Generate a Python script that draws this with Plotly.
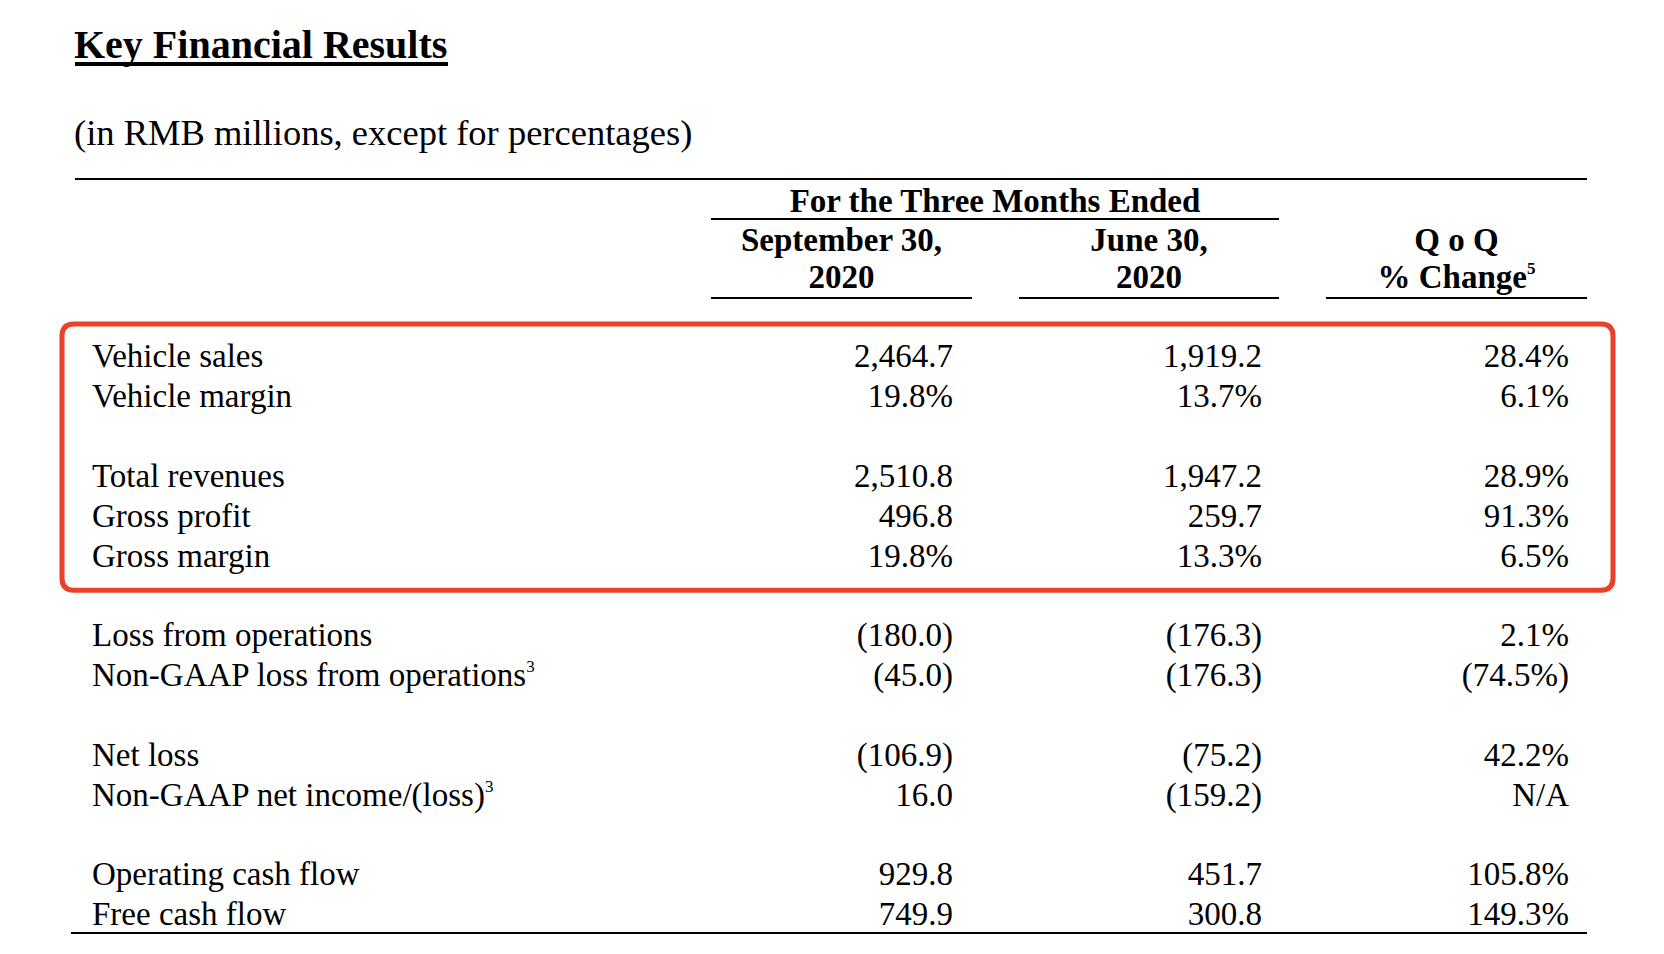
import plotly.graph_objects as go

# ---- data -------------------------------------------------------------
SUP = '<sup><span style="font-size:17px">{}</span></sup>'

row_labels = [
    "Vehicle sales", "Vehicle margin",
    "Total revenues", "Gross profit", "Gross margin",
    "Loss from operations", "Non-GAAP loss from operations" + SUP.format(3),
    "Net loss", "Non-GAAP net income/(loss)" + SUP.format(3),
    "Operating cash flow", "Free cash flow",
]
row_group = [0, 0, 1, 1, 1, 2, 2, 3, 3, 4, 4]
is_pct = [False, True, False, False, True, False, False, False, False, False, False]

sep30_2020 = [2464.7, 19.8, 2510.8, 496.8, 19.8, -180.0, -45.0, -106.9, 16.0, 929.8, 749.9]
jun30_2020 = [1919.2, 13.7, 1947.2, 259.7, 13.3, -176.3, -176.3, -75.2, -159.2, 451.7, 300.8]
qoq_change = [28.4, 6.1, 28.9, 91.3, 6.5, 2.1, -74.5, 42.2, None, 105.8, 149.3]

col_headers = [["September 30,", "2020"], ["June 30,", "2020"], ["Q o Q", "% Change" + SUP.format(5)]]
group_header = "For the Three Months Ended"
title = "Key Financial Results"
subtitle = "(in RMB millions, except for percentages)"
highlight_groups = [0, 1]

# ---- layout constants (page pixels) -----------------------------------
W, H = 1664, 954
PAGE_PAD = 8  # default body margin of the html page
FONT = "Liberation Serif, Times New Roman, serif"
ROW_Y0, ROW_STEP = 359, 39.85
LABEL_X = 92
COL_RIGHT = [953, 1262, 1569]
COL_SPAN = [(711, 972), (1019, 1279), (1326, 1587)]
TABLE_L, TABLE_R = 75, 1587
RED = "#EA4129"


def fmt(v, pct):
    if v is None:
        return "N/A"
    s = f"{abs(v):,.1f}" + ("%" if pct else "")
    return f"({s})" if v < 0 else s


row_y = [ROW_Y0 + ROW_STEP * (i + g) for i, g in enumerate(row_group)]
columns = [
    [fmt(v, p) for v, p in zip(sep30_2020, is_pct)],
    [fmt(v, p) for v, p in zip(jun30_2020, is_pct)],
    [fmt(v, True) for v in qoq_change],
]

fig = go.Figure()

body_font = dict(family=FONT, size=33, color="black")

fig.add_trace(go.Scatter(
    x=[LABEL_X] * len(row_labels), y=row_y, text=row_labels,
    mode="text", textposition="middle right", textfont=body_font,
    hoverinfo="skip", showlegend=False,
))
for xr, vals in zip(COL_RIGHT, columns):
    fig.add_trace(go.Scatter(
        x=[xr] * len(vals), y=row_y, text=vals,
        mode="text", textposition="middle left", textfont=body_font,
        hoverinfo="skip", showlegend=False,
    ))

# column headers
hdr_x, hdr_y, hdr_t = [], [], []
for (a, b), lines in zip(COL_SPAN, col_headers):
    for j, t in enumerate(lines):
        hdr_x.append((a + b) / 2)
        hdr_y.append(243 + 37 * j)
        hdr_t.append(f"<b>{t}</b>")
hdr_x.append((COL_SPAN[0][0] + COL_SPAN[1][1]) / 2)
hdr_y.append(204)
hdr_t.append(f"<b>{group_header}</b>")
fig.add_trace(go.Scatter(
    x=hdr_x, y=hdr_y, text=hdr_t, mode="text", textposition="middle center",
    textfont=dict(family=FONT, size=33, color="black"),
    hoverinfo="skip", showlegend=False,
))

# title + subtitle
fig.add_trace(go.Scatter(
    x=[TABLE_L - 1, TABLE_L - 1], y=[48, 136],
    text=[f"<b>{title}</b>", subtitle],
    mode="text", textposition="middle right",
    textfont=dict(family=FONT, size=[40, 36.5], color="black"),
    hoverinfo="skip", showlegend=False,
))

# rules
shapes = [
    dict(type="line", x0=TABLE_L, x1=448, y0=64, y1=64, line=dict(color="black", width=4)),
    dict(type="line", x0=TABLE_L, x1=TABLE_R, y0=179, y1=179, line=dict(color="black", width=2)),
    dict(type="line", x0=COL_SPAN[0][0], x1=COL_SPAN[1][1], y0=219, y1=219, line=dict(color="black", width=2)),
    dict(type="line", x0=71, x1=TABLE_R, y0=933, y1=933, line=dict(color="black", width=2)),
]
for a, b in COL_SPAN:
    shapes.append(dict(type="line", x0=a, x1=b, y0=298, y1=298, line=dict(color="black", width=2)))

# red highlight box round the first two groups
hl_rows = [y for y, g in zip(row_y, row_group) if g in highlight_groups]
x0, x1 = 62, 1613
y0, y1 = min(hl_rows) - 35, max(hl_rows) + 32
r = 12
path = (f"M {x0 + r},{y0} L {x1 - r},{y0} Q {x1},{y0} {x1},{y0 + r} "
        f"L {x1},{y1 - r} Q {x1},{y1} {x1 - r},{y1} L {x0 + r},{y1} "
        f"Q {x0},{y1} {x0},{y1 - r} L {x0},{y0 + r} Q {x0},{y0} {x0 + r},{y0} Z")
shapes.append(dict(type="path", path=path, line=dict(color=RED, width=5)))

# the plot div sits PAGE_PAD px inside the page, so the axes are set up
# to read in page pixels
fig.update_layout(
    width=W - 2 * PAGE_PAD, height=H - 2 * PAGE_PAD,
    margin=dict(l=0, r=0, t=0, b=0),
    paper_bgcolor="white", plot_bgcolor="white",
    xaxis=dict(range=[PAGE_PAD, W - PAGE_PAD], visible=False, fixedrange=True),
    yaxis=dict(range=[H - PAGE_PAD, PAGE_PAD], visible=False, fixedrange=True),
    shapes=shapes,
    showlegend=False,
)

fig.write_html("out.html", config={"displayModeBar": False})
